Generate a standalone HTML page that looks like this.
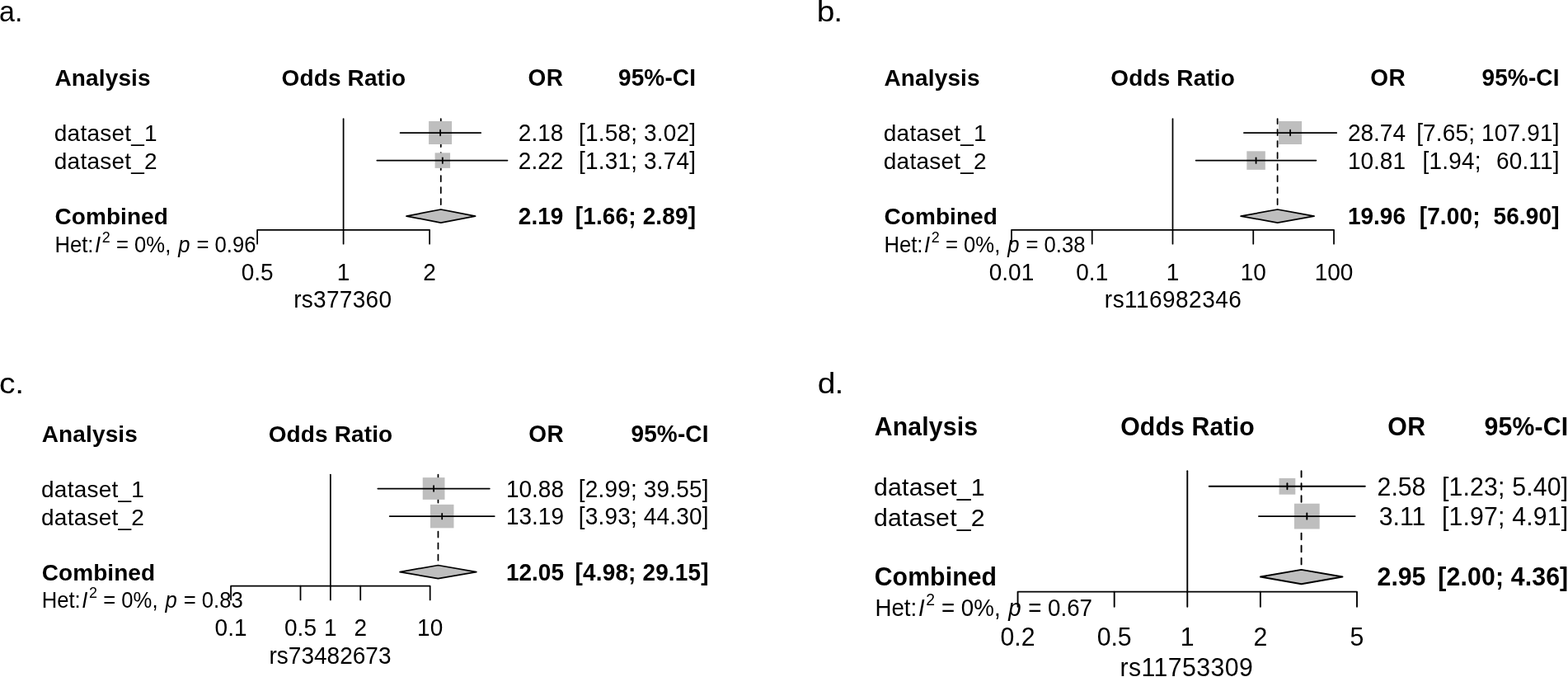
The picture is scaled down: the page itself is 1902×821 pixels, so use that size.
<!DOCTYPE html>
<html lang="en">
<head>
<meta charset="utf-8">
<title>Forest plots</title>
<style>
html,body{margin:0;padding:0;background:#fff;overflow:hidden;}
svg{display:block;}
text{font-family:'Liberation Sans', sans-serif;fill:#000;}
.b{font-weight:bold;}
.i{font-style:italic;}
</style>
</head>
<body>
<svg width="1902" height="821" viewBox="0 0 1902 821">
<rect x="0" y="0" width="1902" height="821" fill="#fff"/>
<g id="panel-a">
<text font-size="35" transform="translate(-1 25.5) scale(0.970 1.000)">a.</text>
<text letter-spacing="0.14" class="b" font-size="28" transform="translate(66.5 104) scale(1.000 1.020)">Analysis</text>
<text letter-spacing="0.14" class="b" text-anchor="middle" font-size="28" transform="translate(416.87 104) scale(1.000 1.020)">Odds Ratio</text>
<text letter-spacing="0.3" class="b" text-anchor="end" font-size="28" transform="translate(683.2 104) scale(1.000 1.065)">OR</text>
<text letter-spacing="0.15" class="b" text-anchor="end" font-size="28" transform="translate(844.15 104) scale(1.000 1.065)">95%-CI</text>
<text letter-spacing="0.22" font-size="28" x="65.8" y="171.4">dataset_1</text>
<text text-anchor="end" font-size="28" transform="translate(683.3 171.2) scale(1.000 1.065)">2.18</text>
<text letter-spacing="0.17" text-anchor="end" xml:space="preserve" font-size="28" transform="translate(844.17 171.2) scale(1.000 1.065)">[1.58; 3.02]</text>
<text letter-spacing="0.22" font-size="28" x="65.8" y="205">dataset_2</text>
<text text-anchor="end" font-size="28" transform="translate(683.3 204.8) scale(1.000 1.065)">2.22</text>
<text letter-spacing="0.17" text-anchor="end" xml:space="preserve" font-size="28" transform="translate(844.17 204.8) scale(1.000 1.065)">[1.31; 3.74]</text>
<text letter-spacing="0.07" class="b" font-size="28" transform="translate(66.5 272) scale(1.000 1.020)">Combined</text>
<text class="b" text-anchor="end" font-size="28" transform="translate(683.3 272) scale(1.000 1.065)">2.19</text>
<text letter-spacing="0.14" class="b" text-anchor="end" xml:space="preserve" font-size="28" transform="translate(844.14 272) scale(1.000 1.065)">[1.66; 2.89]</text>
<text transform="translate(67 305.6) scale(1 1.065)" font-size="25.67" xml:space="preserve"><tspan x="-0.6">Het:</tspan><tspan class="i" x="48">I</tspan><tspan x="56.7" dy="-11.33" font-size="17.97">2</tspan><tspan x="66.87" dy="11.33"> = 0%, </tspan><tspan class="i" x="149.2">p</tspan><tspan x="164.37"> = </tspan><tspan x="193.5">0.96</tspan></text>
<g stroke="#000" stroke-width="1.75" fill="none" stroke-linecap="round" stroke-linejoin="round">
<line x1="534.78" y1="248.05" x2="534.78" y2="144" stroke-dasharray="7 7"/>
</g>
<rect x="520.09" y="147" width="28" height="28" fill="#bebebe"/>
<rect x="527.58" y="185.35" width="18.5" height="18.5" fill="#bebebe"/>
<g stroke="#000" stroke-width="1.75" fill="none" stroke-linecap="round" stroke-linejoin="round">
<line x1="416.6" y1="144" x2="416.6" y2="278.85"/>
<line x1="485.56" y1="161" x2="583.23" y2="161"/>
<line x1="534.09" y1="157.7" x2="534.09" y2="164.3"/>
<line x1="457.31" y1="194.6" x2="615.47" y2="194.6"/>
<line x1="536.83" y1="191.3" x2="536.83" y2="197.9"/>
<polygon points="493.01,262.05 534.78,254 576.6,262.05 534.78,270.1" fill="#bebebe"/>
<path d="M312.1,295.65 L312.1,278.85 L521.1,278.85 L521.1,295.65"/>
<line x1="416.6" y1="278.85" x2="416.6" y2="295.65"/>
</g>
<text text-anchor="middle" font-size="28" transform="translate(312.1 339.6) scale(1.000 1.065)">0.5</text>
<text text-anchor="middle" font-size="28" transform="translate(416.6 339.6) scale(1.000 1.065)">1</text>
<text text-anchor="middle" font-size="28" transform="translate(521.1 339.6) scale(1.000 1.065)">2</text>
<text letter-spacing="0.3" text-anchor="middle" font-size="28" transform="translate(415.75 373) scale(1.000 1.065)">rs377360</text>
</g>
<g id="panel-b">
<text letter-spacing="-0.9" font-size="35" transform="translate(990.65 26) scale(1.115 1.000)">b.</text>
<text letter-spacing="0.14" class="b" font-size="28" transform="translate(1072.5 104) scale(1.000 1.020)">Analysis</text>
<text letter-spacing="0.14" class="b" text-anchor="middle" font-size="28" transform="translate(1422.67 104) scale(1.000 1.020)">Odds Ratio</text>
<text letter-spacing="0.3" class="b" text-anchor="end" font-size="28" transform="translate(1704.9 104) scale(1.000 1.065)">OR</text>
<text letter-spacing="0.15" class="b" text-anchor="end" font-size="28" transform="translate(1891.65 104) scale(1.000 1.065)">95%-CI</text>
<text letter-spacing="0.22" font-size="28" x="1071.8" y="171.4">dataset_1</text>
<text text-anchor="end" font-size="28" transform="translate(1705 171.2) scale(1.000 1.065)">28.74</text>
<text letter-spacing="0.17" text-anchor="end" xml:space="preserve" font-size="28" transform="translate(1891.67 171.2) scale(1.000 1.065)">[7.65; 107.91]</text>
<text letter-spacing="0.22" font-size="28" x="1071.8" y="205">dataset_2</text>
<text text-anchor="end" font-size="28" transform="translate(1705 204.8) scale(1.000 1.065)">10.81</text>
<text letter-spacing="0.17" word-spacing="1.2" text-anchor="end" xml:space="preserve" font-size="28" transform="translate(1891.67 204.8) scale(1.000 1.065)">[1.94;  60.11]</text>
<text letter-spacing="0.07" class="b" font-size="28" transform="translate(1072.5 272) scale(1.000 1.020)">Combined</text>
<text class="b" text-anchor="end" font-size="28" transform="translate(1705 272) scale(1.000 1.065)">19.96</text>
<text letter-spacing="0.14" class="b" text-anchor="end" xml:space="preserve" font-size="28" transform="translate(1891.64 272) scale(1.000 1.065)">[7.00;  56.90]</text>
<text transform="translate(1073 305.6) scale(1 1.065)" font-size="25.67" xml:space="preserve"><tspan x="-0.6">Het:</tspan><tspan class="i" x="48">I</tspan><tspan x="56.7" dy="-11.33" font-size="17.97">2</tspan><tspan x="66.87" dy="11.33"> = 0%, </tspan><tspan class="i" x="149.2">p</tspan><tspan x="164.37"> = </tspan><tspan x="193.5">0.38</tspan></text>
<g stroke="#000" stroke-width="1.75" fill="none" stroke-linecap="round" stroke-linejoin="round">
<line x1="1549.6" y1="248.05" x2="1549.6" y2="144" stroke-dasharray="7 7"/>
</g>
<rect x="1551.08" y="147" width="28" height="28" fill="#bebebe"/>
<rect x="1512.32" y="183.35" width="22.5" height="22.5" fill="#bebebe"/>
<g stroke="#000" stroke-width="1.75" fill="none" stroke-linecap="round" stroke-linejoin="round">
<line x1="1422.5" y1="144" x2="1422.5" y2="278.85"/>
<line x1="1508.89" y1="161" x2="1621.25" y2="161"/>
<line x1="1565.08" y1="157.7" x2="1565.08" y2="164.3"/>
<line x1="1450.64" y1="194.6" x2="1596.41" y2="194.6"/>
<line x1="1523.57" y1="191.3" x2="1523.57" y2="197.9"/>
<polygon points="1505.12,262.05 1549.6,254 1594.08,262.05 1549.6,270.1" fill="#bebebe"/>
<path d="M1226.98,295.65 L1226.98,278.85 L1618.02,278.85 L1618.02,295.65"/>
<line x1="1324.74" y1="278.85" x2="1324.74" y2="295.65"/>
<line x1="1422.5" y1="278.85" x2="1422.5" y2="295.65"/>
<line x1="1520.26" y1="278.85" x2="1520.26" y2="295.65"/>
</g>
<text text-anchor="middle" font-size="28" transform="translate(1226.98 339.6) scale(1.000 1.065)">0.01</text>
<text text-anchor="middle" font-size="28" transform="translate(1324.74 339.6) scale(1.000 1.065)">0.1</text>
<text text-anchor="middle" font-size="28" transform="translate(1422.5 339.6) scale(1.000 1.065)">1</text>
<text text-anchor="middle" font-size="28" transform="translate(1520.26 339.6) scale(1.000 1.065)">10</text>
<text text-anchor="middle" font-size="28" transform="translate(1618.02 339.6) scale(1.000 1.065)">100</text>
<text letter-spacing="0.46" text-anchor="middle" font-size="28" transform="translate(1423.03 373) scale(1.000 1.065)">rs116982346</text>
</g>
<g id="panel-c">
<text letter-spacing="-0.3" font-size="35" transform="translate(-0.9 476.8) scale(1.115 1.000)">c.</text>
<text letter-spacing="0.14" class="b" font-size="28" transform="translate(50.75 535.5) scale(1.000 1.020)">Analysis</text>
<text letter-spacing="0.14" class="b" text-anchor="middle" font-size="28" transform="translate(400.97 535.5) scale(1.000 1.020)">Odds Ratio</text>
<text letter-spacing="0.3" class="b" text-anchor="end" font-size="28" transform="translate(683.9 535.5) scale(1.000 1.065)">OR</text>
<text letter-spacing="0.15" class="b" text-anchor="end" font-size="28" transform="translate(859.65 535.5) scale(1.000 1.065)">95%-CI</text>
<text letter-spacing="0.22" font-size="28" x="50.05" y="602.9">dataset_1</text>
<text text-anchor="end" font-size="28" transform="translate(684 602.7) scale(1.000 1.065)">10.88</text>
<text letter-spacing="0.17" text-anchor="end" xml:space="preserve" font-size="28" transform="translate(859.67 602.7) scale(1.000 1.065)">[2.99; 39.55]</text>
<text letter-spacing="0.22" font-size="28" x="50.05" y="636.5">dataset_2</text>
<text text-anchor="end" font-size="28" transform="translate(684 636.3) scale(1.000 1.065)">13.19</text>
<text letter-spacing="0.17" text-anchor="end" xml:space="preserve" font-size="28" transform="translate(859.67 636.3) scale(1.000 1.065)">[3.93; 44.30]</text>
<text letter-spacing="0.07" class="b" font-size="28" transform="translate(50.75 703.5) scale(1.000 1.020)">Combined</text>
<text class="b" text-anchor="end" font-size="28" transform="translate(684 703.5) scale(1.000 1.065)">12.05</text>
<text letter-spacing="0.14" class="b" text-anchor="end" xml:space="preserve" font-size="28" transform="translate(859.64 703.5) scale(1.000 1.065)">[4.98; 29.15]</text>
<text transform="translate(51.25 737.1) scale(1 1.065)" font-size="25.67" xml:space="preserve"><tspan x="-0.6">Het:</tspan><tspan class="i" x="48">I</tspan><tspan x="56.7" dy="-11.33" font-size="17.97">2</tspan><tspan x="66.87" dy="11.33"> = 0%, </tspan><tspan class="i" x="149.2">p</tspan><tspan x="164.37"> = </tspan><tspan x="193.5">0.83</tspan></text>
<g stroke="#000" stroke-width="1.75" fill="none" stroke-linecap="round" stroke-linejoin="round">
<line x1="531.46" y1="679.55" x2="531.46" y2="575.5" stroke-dasharray="7 7"/>
</g>
<rect x="512.73" y="579.12" width="26.75" height="26.75" fill="#bebebe"/>
<rect x="521.96" y="611.85" width="28.5" height="28.5" fill="#bebebe"/>
<g stroke="#000" stroke-width="1.75" fill="none" stroke-linecap="round" stroke-linejoin="round">
<line x1="400.87" y1="575.5" x2="400.87" y2="710.65"/>
<line x1="458.34" y1="592.5" x2="593.82" y2="592.5"/>
<line x1="526.11" y1="589.2" x2="526.11" y2="595.8"/>
<line x1="472.68" y1="626.1" x2="599.77" y2="626.1"/>
<line x1="536.21" y1="622.8" x2="536.21" y2="629.4"/>
<polygon points="485.1,693.55 531.46,685.5 577.81,693.55 531.46,701.6" fill="#bebebe"/>
<path d="M280.06,727.45 L280.06,710.65 L521.68,710.65 L521.68,727.45"/>
<line x1="364.5" y1="710.65" x2="364.5" y2="727.45"/>
<line x1="400.87" y1="710.65" x2="400.87" y2="727.45"/>
<line x1="437.24" y1="710.65" x2="437.24" y2="727.45"/>
</g>
<text text-anchor="middle" font-size="28" transform="translate(280.06 771.1) scale(1.000 1.065)">0.1</text>
<text text-anchor="middle" font-size="28" transform="translate(364.5 771.1) scale(1.000 1.065)">0.5</text>
<text text-anchor="middle" font-size="28" transform="translate(400.87 771.1) scale(1.000 1.065)">1</text>
<text text-anchor="middle" font-size="28" transform="translate(437.24 771.1) scale(1.000 1.065)">2</text>
<text text-anchor="middle" font-size="28" transform="translate(521.68 771.1) scale(1.000 1.065)">10</text>
<text letter-spacing="0.03" text-anchor="middle" font-size="28" transform="translate(400.47 804.5) scale(1.000 1.065)">rs73482673</text>
</g>
<g id="panel-d">
<text letter-spacing="-0.8" font-size="35" transform="translate(991.66 477.1) scale(1.115 1.000)">d.</text>
<text letter-spacing="0.15" class="b" font-size="30.24" transform="translate(1060.71 528.45) scale(1.000 1.020)">Analysis</text>
<text letter-spacing="0.15" class="b" text-anchor="middle" font-size="30.24" transform="translate(1440.5 528.45) scale(1.000 1.020)">Odds Ratio</text>
<text letter-spacing="0.32" class="b" text-anchor="end" font-size="30.24" transform="translate(1729.29 528.45) scale(1.000 1.065)">OR</text>
<text letter-spacing="0.16" class="b" text-anchor="end" font-size="30.24" transform="translate(1902.32 528.45) scale(1.000 1.065)">95%-CI</text>
<text letter-spacing="0.24" font-size="30.24" x="1059.95" y="601.24">dataset_1</text>
<text text-anchor="end" font-size="30.24" transform="translate(1729.4 601.03) scale(1.000 1.065)">2.58</text>
<text letter-spacing="0.18" text-anchor="end" xml:space="preserve" font-size="30.24" transform="translate(1902.34 601.03) scale(1.000 1.065)">[1.23; 5.40]</text>
<text letter-spacing="0.24" font-size="30.24" x="1059.95" y="637.63">dataset_2</text>
<text text-anchor="end" font-size="30.24" transform="translate(1729.4 637.41) scale(1.000 1.065)">3.11</text>
<text letter-spacing="0.18" text-anchor="end" xml:space="preserve" font-size="30.24" transform="translate(1902.34 637.41) scale(1.000 1.065)">[1.97; 4.91]</text>
<text letter-spacing="0.08" class="b" font-size="30.24" transform="translate(1060.71 710.29) scale(1.000 1.020)">Combined</text>
<text class="b" text-anchor="end" font-size="30.24" transform="translate(1729.4 710.29) scale(1.000 1.065)">2.95</text>
<text letter-spacing="0.15" class="b" text-anchor="end" xml:space="preserve" font-size="30.24" transform="translate(1902.31 710.29) scale(1.000 1.065)">[2.00; 4.36]</text>
<text transform="translate(1062.05 746.68) scale(1 1.065)" font-size="27.72" xml:space="preserve"><tspan x="-0.65">Het:</tspan><tspan class="i" x="51.84">I</tspan><tspan x="61.24" dy="-12.23" font-size="19.4">2</tspan><tspan x="72.22" dy="12.23"> = 0%, </tspan><tspan class="i" x="161.14">p</tspan><tspan x="177.52"> = </tspan><tspan x="208.98">0.67</tspan></text>
<g stroke="#000" stroke-width="1.89" fill="none" stroke-linecap="round" stroke-linejoin="round">
<line x1="1578.56" y1="684.42" x2="1578.56" y2="571.25" stroke-dasharray="7.56 7.56"/>
</g>
<rect x="1551.55" y="579.94" width="19.75" height="19.75" fill="#bebebe"/>
<rect x="1569.93" y="610.72" width="30.75" height="30.75" fill="#bebebe"/>
<g stroke="#000" stroke-width="1.89" fill="none" stroke-linecap="round" stroke-linejoin="round">
<line x1="1440.28" y1="571.25" x2="1440.28" y2="717.67"/>
<line x1="1466.74" y1="589.81" x2="1655.84" y2="589.81"/>
<line x1="1561.43" y1="586.25" x2="1561.43" y2="593.37"/>
<line x1="1526.95" y1="626.1" x2="1643.68" y2="626.1"/>
<line x1="1585.31" y1="622.53" x2="1585.31" y2="629.66"/>
<polygon points="1528.88,699.54 1578.56,690.85 1628.49,699.54 1578.56,708.24" fill="#bebebe"/>
<path d="M1234.56,735.81 L1234.56,717.67 L1646,717.67 L1646,735.81"/>
<line x1="1351.68" y1="717.67" x2="1351.68" y2="735.81"/>
<line x1="1440.28" y1="717.67" x2="1440.28" y2="735.81"/>
<line x1="1528.88" y1="717.67" x2="1528.88" y2="735.81"/>
</g>
<text text-anchor="middle" font-size="30.24" transform="translate(1234.56 783.45) scale(1.000 1.065)">0.2</text>
<text text-anchor="middle" font-size="30.24" transform="translate(1351.68 783.45) scale(1.000 1.065)">0.5</text>
<text text-anchor="middle" font-size="30.24" transform="translate(1440.28 783.45) scale(1.000 1.065)">1</text>
<text text-anchor="middle" font-size="30.24" transform="translate(1528.88 783.45) scale(1.000 1.065)">2</text>
<text text-anchor="middle" font-size="30.24" transform="translate(1646 783.45) scale(1.000 1.065)">5</text>
<text letter-spacing="0.43" text-anchor="middle" font-size="30.24" transform="translate(1439.34 819.6) scale(1.000 1.065)">rs11753309</text>
</g>
</svg>
</body>
</html>
